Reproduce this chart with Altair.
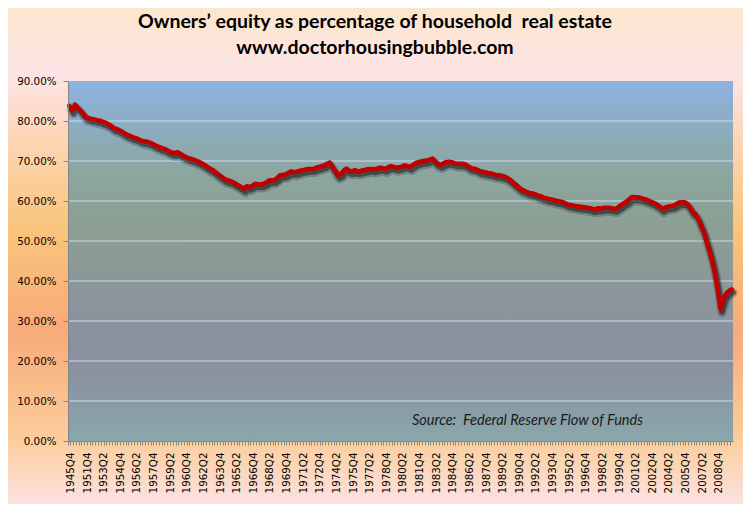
import json
import altair as alt
import pandas as pd

# ---------------- data ----------------
annual_years = [1945, 1946, 1947, 1948, 1949, 1950, 1951]
annual_values = [83.8, 82.6, 84.1, 83.3, 82.7, 81.8, 81.0]   # reported as Q4 of each year

quarterly = {
    1952: [80.7, 80.5, 80.4, 80.2],
    1953: [80.1, 79.8, 79.6, 79.2],
    1954: [78.8, 78.2, 78.0, 77.7],
    1955: [77.3, 76.9, 76.5, 76.2],
    1956: [75.9, 75.7, 75.4, 75.1],
    1957: [74.9, 74.8, 74.6, 74.3],
    1958: [73.9, 73.6, 73.3, 73.1],
    1959: [72.8, 72.4, 72.1, 72.0],
    1960: [72.2, 71.8, 71.4, 71.0],
    1961: [70.7, 70.5, 70.3, 70.0],
    1962: [69.7, 69.3, 68.9, 68.4],
    1963: [68.0, 67.6, 67.0, 66.5],
    1964: [66.0, 65.5, 65.2, 65.0],
    1965: [64.7, 64.3, 63.9, 63.5],
    1966: [63.0, 63.7, 63.5, 63.8],
    1967: [64.3, 64.2, 64.1, 64.3],
    1968: [64.6, 65.1, 65.2, 65.2],
    1969: [65.7, 66.4, 66.5, 66.6],
    1970: [67.0, 67.4, 67.2, 67.3],
    1971: [67.5, 67.7, 67.8, 68.0],
    1972: [68.0, 68.0, 68.3, 68.5],
    1973: [68.7, 68.9, 69.3, 69.6],
    1974: [68.5, 67.4, 66.4, 66.7],
    1975: [67.6, 68.1, 67.5, 67.4],
    1976: [67.7, 67.4, 67.5, 67.7],
    1977: [67.8, 68.0, 68.0, 67.9],
    1978: [68.1, 68.3, 68.2, 68.0],
    1979: [68.4, 68.7, 68.5, 68.3],
    1980: [68.4, 68.6, 68.9, 68.7],
    1981: [68.5, 69.0, 69.5, 69.7],
    1982: [69.9, 70.0, 70.1, 70.3],
    1983: [70.6, 69.9, 69.3, 69.0],
    1984: [69.4, 69.7, 69.8, 69.7],
    1985: [69.4, 69.3, 69.3, 69.3],
    1986: [69.1, 68.6, 68.2, 68.1],
    1987: [67.9, 67.5, 67.3, 67.2],
    1988: [67.0, 66.9, 66.7, 66.5],
    1989: [66.4, 66.3, 66.1, 65.8],
    1990: [65.3, 64.7, 64.1, 63.5],
    1991: [62.9, 62.6, 62.3, 62.0],
    1992: [61.9, 61.7, 61.4, 61.2],
    1993: [60.9, 60.7, 60.5, 60.4],
    1994: [60.2, 60.0, 59.9, 59.7],
    1995: [59.4, 59.1, 59.0, 58.8],
    1996: [58.7, 58.6, 58.5, 58.4],
    1997: [58.3, 58.2, 57.9, 58.0],
    1998: [58.2, 58.1, 58.3, 58.3],
    1999: [58.3, 58.1, 58.0, 58.4],
    2000: [58.9, 59.4, 59.8, 60.4],
    2001: [61.0, 60.9, 60.9, 60.8],
    2002: [60.6, 60.4, 60.1, 59.8],
    2003: [59.5, 59.1, 58.6, 58.0],
    2004: [58.4, 58.6, 58.7, 58.8],
    2005: [59.2, 59.6, 59.7, 59.7],
    2006: [59.3, 58.4, 57.2, 56.7],
    2007: [55.5, 53.8, 52.2, 49.8],
    2008: [47.5, 44.9, 41.8, 37.7],
    2009: [33.0, 35.5, 36.8, 37.5],
    2010: [37.9],
}

y_ticks = [0, 0.1, 0.2, 0.3, 0.4, 0.5, 0.6, 0.7, 0.8, 0.9]
grid_values = [0.1, 0.2, 0.3, 0.4, 0.5, 0.6, 0.7, 0.8]

title_line1 = "Owners\u2019 equity as percentage of household \u00a0real estate"
title_line2 = "www.doctorhousingbubble.com"
source_note = "Source:\u00a0 Federal Reserve Flow of Funds"

# ---------------- table ----------------
categories = [f"{y}Q4" for y in annual_years]
values = list(annual_values)
for y, vals in quarterly.items():
    for q, v in enumerate(vals, start=1):
        categories.append(f"{y}Q{q}")
        values.append(v)

shown_labels = categories[::6]

df = pd.DataFrame({
    "quarter": categories,
    "equity": [v / 100 for v in values],
    "idx": list(range(len(categories))),
})
one = pd.DataFrame({"k": [0]})
grid_df = pd.DataFrame({"equity": grid_values})

W, H = 665, 360
AXIS_GRAY = "#868686"
LABEL_FONT = "DejaVu Sans"

xscale = alt.Scale(type="band", domain=categories, paddingInner=0, paddingOuter=0)
yscale = alt.Scale(domain=[0, 0.9], nice=False, zero=True)

label_expr = "indexof(" + json.dumps(shown_labels) + ", datum.value) >= 0 ? datum.value : ''"

x_axis = alt.Axis(
    title=None, labelAngle=270, labelAlign="right", labelBaseline="middle",
    labelExpr=label_expr, labelOverlap=False, labelBound=False, labelFlush=False,
    labelPadding=7, labelOffset=1.6, tickSize=4, tickColor=AXIS_GRAY,
    domainColor=AXIS_GRAY, bandPosition=0, labelFont=LABEL_FONT,
    labelFontSize=10.3, labelColor="#000000", grid=False, zindex=2,
)
y_axis = alt.Axis(
    title=None, values=y_ticks, format=".2%", tickSize=5, labelPadding=7,
    tickColor=AXIS_GRAY, domainColor=AXIS_GRAY, labelFont=LABEL_FONT,
    labelFontSize=10.3, labelColor="#000000", grid=False, zindex=2,
)

x_enc = alt.X("quarter:O", scale=xscale, sort=categories, axis=x_axis)
y_enc = alt.Y("equity:Q", scale=yscale, axis=y_axis)

outer_grad = alt.Gradient(
    gradient="linear", x1=0, x2=0.0001, y1=0, y2=1,
    stops=[
        alt.GradientStop(color="#fbe6cc", offset=0.0),
        alt.GradientStop(color="#fde4e6", offset=0.13),
        alt.GradientStop(color="#fcd3ad", offset=0.29),
        alt.GradientStop(color="#f9c47b", offset=0.45),
        alt.GradientStop(color="#f8aa7a", offset=0.65),
        alt.GradientStop(color="#fbcd9b", offset=0.87),
        alt.GradientStop(color="#fde2e2", offset=1.0),
    ],
)
plot_grad = alt.Gradient(
    gradient="linear", x1=0, x2=0.0001, y1=0, y2=1,
    stops=[
        alt.GradientStop(color="#8db3e2", offset=0.0),
        alt.GradientStop(color="#8ca6a0", offset=0.25),
        alt.GradientStop(color="#8b9f93", offset=0.4),
        alt.GradientStop(color="#8b949b", offset=0.62),
        alt.GradientStop(color="#8a8f9e", offset=0.78),
        alt.GradientStop(color="#89a7ac", offset=1.0),
    ],
)

outer_bg = alt.Chart(one).mark_rect(fill=outer_grad, strokeWidth=0).encode(
    x=alt.value(-60), x2=alt.value(W + 10), y=alt.value(-73), y2=alt.value(H + 63)
)
plot_bg = alt.Chart(one).mark_rect(fill=plot_grad, strokeWidth=0).encode(
    x=alt.value(0), x2=alt.value(W), y=alt.value(0), y2=alt.value(H)
)
grid = alt.Chart(grid_df).mark_rule(color="#c9dcf2", strokeWidth=1.2).encode(y=y_enc)

base = alt.Chart(df).encode(x=x_enc, y=y_enc, order=alt.Order("idx:Q"))
shadow1 = base.mark_line(color="#000000", opacity=0.2, strokeWidth=9,
                         xOffset=1.5, yOffset=3.5, strokeJoin="round", strokeCap="round")
shadow2 = base.mark_line(color="#111111", opacity=0.5, strokeWidth=5.5,
                         xOffset=1.5, yOffset=3, strokeJoin="round", strokeCap="round")
red = base.mark_line(color="#c00000", strokeWidth=4.6, strokeJoin="round", strokeCap="round")

source = alt.Chart(one).mark_text(
    text=source_note, font="Lato", fontStyle="italic", fontSize=14.5,
    align="left", baseline="middle", color="#1a1a1a",
).encode(x=alt.value(344), y=alt.value(340))

title1 = alt.Chart(one).mark_text(
    text=title_line1, font="Lato", fontWeight="bold", fontSize=19.5,
    align="center", baseline="middle", color="#000000",
).encode(x=alt.value(307), y=alt.value(-59))
title2 = alt.Chart(one).mark_text(
    text=title_line2, font="Lato", fontWeight="bold", fontSize=19.5,
    align="center", baseline="middle", color="#000000",
).encode(x=alt.value(307), y=alt.value(-33))

chart = alt.layer(outer_bg, plot_bg, grid, shadow1, shadow2, red, source, title1, title2).properties(
    width=W, height=H,
    padding={"left": 60, "top": 73, "right": 10, "bottom": 63},
    autosize="none",
).configure_view(stroke=None)

chart.save("out.html", embed_options={"renderer": "svg", "actions": False})
